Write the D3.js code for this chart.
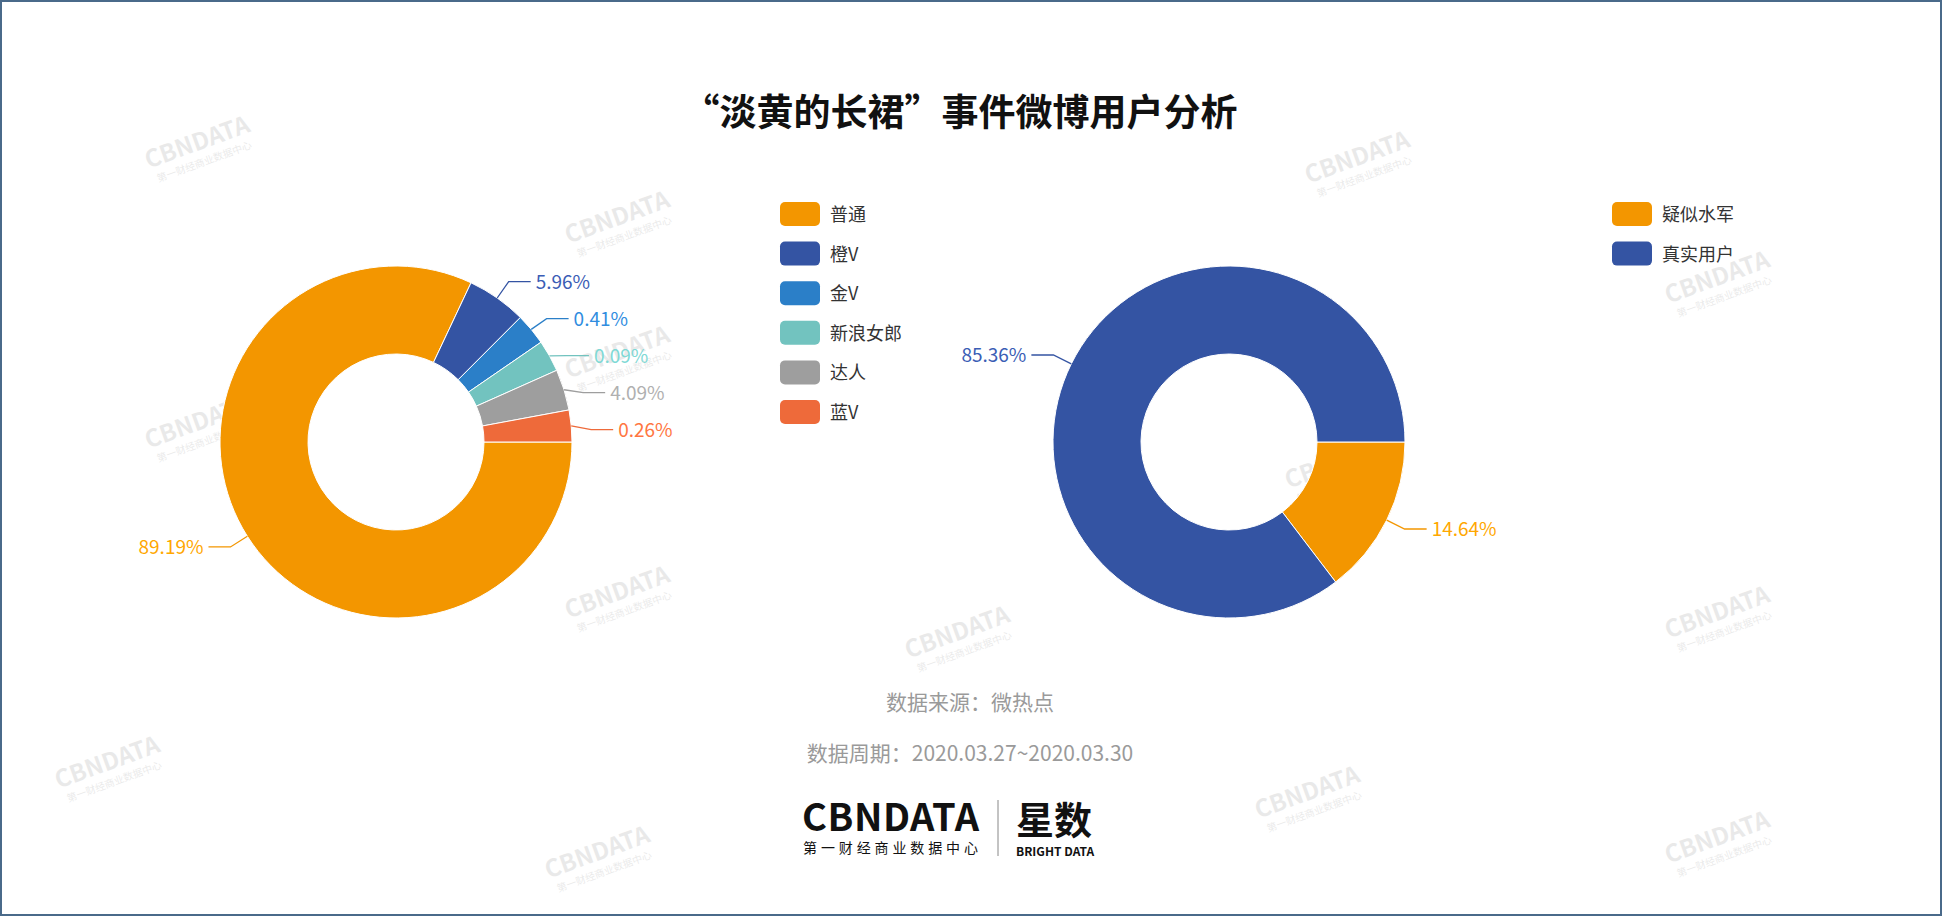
<!DOCTYPE html>
<html><head><meta charset="utf-8">
<script src="https://cdn.jsdelivr.net/npm/d3@7/dist/d3.min.js"></script>
<style>body{margin:0;background:#fff}svg{display:block}</style></head>
<body><svg id="c" width="1942" height="916"></svg>
<script>
const leftCats=["普通","橙V","金V","新浪女郎","达人","蓝V"];
const leftVals=[89.19,5.96,0.41,0.09,4.09,0.26];
const leftColors=["#f39600","#3454a3","#2b7fc8","#72c3bf","#9e9e9e","#ee6a3a"];
const rightCats=["疑似水军","真实用户"];
const rightVals=[14.64,85.36];
const rightColors=["#f39600","#3454a3"];
const title="“淡黄的长裙”事件微博用户分析";
const sourceLines=["数据来源：微热点","数据周期：2020.03.27~2020.03.30"];
const F="'Noto Sans CJK SC','Noto Sans',sans-serif";
const svg=d3.select("#c");
svg.append("rect").attr("x",1).attr("y",1).attr("width",1940).attr("height",914).attr("fill","#fff").attr("stroke","#4a6a8a").attr("stroke-width",2);
const wm=[[200,150],[620,225],[1360,165],[200,430],[620,360],[1720,285],[1340,470],[620,600],[1720,620],[960,640],[1310,800],[600,860],[1720,845],[110,770]];
wm.forEach(([x,y])=>{const g=svg.append("g").attr("transform",`translate(${x},${y}) rotate(-20)`).attr("opacity",0.12);
g.append("text").attr("text-anchor","middle").attr("font-family",F).attr("font-weight","bold").attr("font-size",24).attr("fill","#555").text("CBNDATA");
g.append("text").attr("text-anchor","middle").attr("y",16).attr("font-family",F).attr("font-size",10).attr("fill","#555").text("第一财经商业数据中心");});
svg.append("text").attr("x",960).attr("y",126).attr("text-anchor","middle").attr("font-family",F).attr("font-weight","bold").attr("font-size",37).attr("fill","#111").text(title);

function angles(vals,minDeg){const tot=d3.sum(vals);const min=minDeg*Math.PI/180;let a=vals.map(v=>v/tot*2*Math.PI);
 const small=a.map(x=>x<min);const extra=d3.sum(a.map((x,i)=>small[i]?min-x:0));const bigSum=d3.sum(a.filter((x,i)=>!small[i]));
 return a.map((x,i)=>small[i]?min:x-extra*x/bigSum);}
function donut(cx,cy,vals,colors,minDeg){
 const g=svg.append("g").attr("transform",`translate(${cx},${cy})`);
 const ang=angles(vals,minDeg);let s=Math.PI/2;
 const arc=d3.arc().innerRadius(88).outerRadius(176);
 const labels=[];
 vals.forEach((v,i)=>{const a0=s,a1=s+ang[i];s=a1;
  g.append("path").attr("d",arc({startAngle:a0,endAngle:a1})).attr("fill",colors[i]).attr("stroke","#fff").attr("stroke-width",1);
  const m=(a0+a1)/2;const x=Math.sin(m),y=-Math.cos(m);
  labels.push({i,x0:x*176,y0:y*176,x1:x*196,y1:y*196,right:x>=0,t:v.toFixed(2)+"%"});});
 [true,false].forEach(side=>{const L=labels.filter(l=>l.right===side).sort((a,b)=>a.y1-b.y1);
  for(let k=1;k<L.length;k++) if(L[k].y1-L[k-1].y1<37) L[k].y1=L[k-1].y1+37;});
 labels.forEach(l=>{const d=l.right?1:-1;const x2=l.x1+d*22;
  g.append("polyline").attr("points",`${l.x0},${l.y0} ${l.x1},${l.y1} ${x2},${l.y1}`).attr("fill","none").attr("stroke",colors[l.i]).attr("stroke-width",1.3);
  g.append("text").attr("x",x2+d*5).attr("y",l.y1+7).attr("text-anchor",l.right?"start":"end").attr("font-family",F).attr("font-size",19).attr("fill",d3.color(colors[l.i]).brighter(0.3)).text(l.t);});
}
donut(396,442,leftVals,leftColors,10.5);
donut(1229,442,rightVals,rightColors,0);
function legend(x,y,cats,colors){cats.forEach((c,i)=>{
 svg.append("rect").attr("x",x).attr("y",y+i*39.6-11).attr("width",40).attr("height",24).attr("rx",5).attr("fill",colors[i]);
 svg.append("text").attr("x",x+50).attr("y",y+i*39.6+8).attr("font-family",F).attr("font-size",18).attr("fill","#333").text(c);});}
legend(780,213,leftCats,leftColors);
legend(1612,213,rightCats,rightColors);
sourceLines.forEach((t,i)=>svg.append("text").attr("x",970).attr("y",710+i*51).attr("text-anchor","middle").attr("font-family",F).attr("font-size",21).attr("fill","#9a9a9a").text(t));
const lg=svg.append("g").attr("font-family",F).attr("fill","#111");
lg.append("text").attr("x",802).attr("y",831).attr("font-weight","bold").attr("font-size",38).attr("textLength",177).text("CBNDATA");
lg.append("text").attr("x",803).attr("y",853).attr("font-size",14).attr("textLength",175).text("第一财经商业数据中心");
svg.append("line").attr("x1",998).attr("x2",998).attr("y1",800).attr("y2",856).attr("stroke","#888");
lg.append("text").attr("x",1016).attr("y",834).attr("font-weight","bold").attr("font-size",38).text("星数");
lg.append("text").attr("x",1016).attr("y",856).attr("font-weight","bold").attr("font-size",12).text("BRIGHT DATA");
</script></body></html>
